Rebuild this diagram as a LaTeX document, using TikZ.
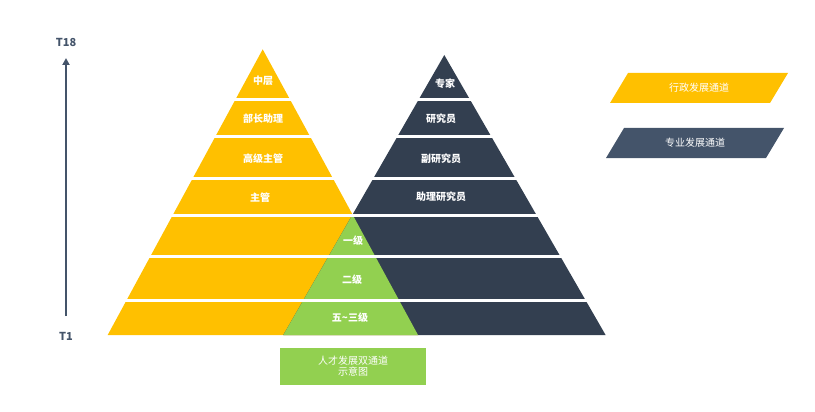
\documentclass[tikz,border=0pt]{standalone}
\usepackage{fontspec}
\setmainfont{Noto Sans CJK SC}
\usetikzlibrary{arrows.meta}
\definecolor{yel}{HTML}{FFC000}
\definecolor{drk}{HTML}{333F50}
\definecolor{grn}{HTML}{92D050}
\definecolor{leg}{HTML}{44546A}
\begin{document}
\begin{tikzpicture}[x=1pt,y=-1pt,
  lab/.style={text=white,font=\fontsize{10}{12}\selectfont\bfseries},
  legtxt/.style={text=white,font=\fontsize{10}{12}\selectfont}]
\useasboundingbox (0,0) rectangle (815,412);
\coordinate (ya) at (262.7,49.3);
\coordinate (yl) at (107.7,335);
\coordinate (yr) at (418,335);
\coordinate (da) at (444.3,55);
\coordinate (dl) at (283.3,335);
\coordinate (dr) at (605.6,335);
\fill[yel] (ya) -- (yl) -- (yr) -- cycle;
\fill[drk] (da) -- (dl) -- (dr) -- cycle;
\begin{scope}
\clip (ya) -- (yl) -- (yr) -- cycle;
\fill[grn] (da) -- (dl) -- (dr) -- cycle;
\end{scope}
\foreach \yy in {100,136.7,178.3,215,256.7,300}
  \draw[white,line width=3] (90,\yy) -- (630,\yy);
\node[lab] (n1) at (263,81) {中层};
\node[lab] (n2) at (263,119) {部长助理};
\node[lab] (n3) at (263,159) {高级主管};
\node[lab] (n4) at (260,198) {主管};
\node[lab] (m1) at (445,84) {专家};
\node[lab] (m2) at (441,119) {研究员};
\node[lab] (m3) at (441,159) {副研究员};
\node[lab] (m4) at (441,197) {助理研究员};
\node[lab] (g1) at (353,241) {一级};
\node[lab] (g2) at (352,280) {二级};
\node[lab] (g3) at (350,318) {五\char"007E三级};
\node[text=leg,font=\fontsize{11}{13}\selectfont\bfseries] (t18) at (66,42) {T18};
\node[text=leg,font=\fontsize{11}{13}\selectfont\bfseries] (t1) at (66,336) {T1};
\coordinate (ab) at (66,316);
\coordinate (at) at (66,58);
\draw[leg,line width=2.5,-{Triangle[length=7,width=7]}] (ab) -- (at);
\fill[yel] (628,73) -- (788,73) -- (770,103) -- (610,103) -- cycle;
\node[legtxt] (l1) at (699,88) {行政发展通道};
\fill[leg] (624,128) -- (784,128) -- (766,158) -- (606,158) -- cycle;
\node[legtxt] (l2) at (695,143) {专业发展通道};
\fill[grn] (280,348) rectangle (426,385);
\node[legtxt,align=center,font=\fontsize{10}{11}\selectfont] (cap) at (353,366.5) {人才发展双通道\\示意图};
\end{tikzpicture}
\end{document}
